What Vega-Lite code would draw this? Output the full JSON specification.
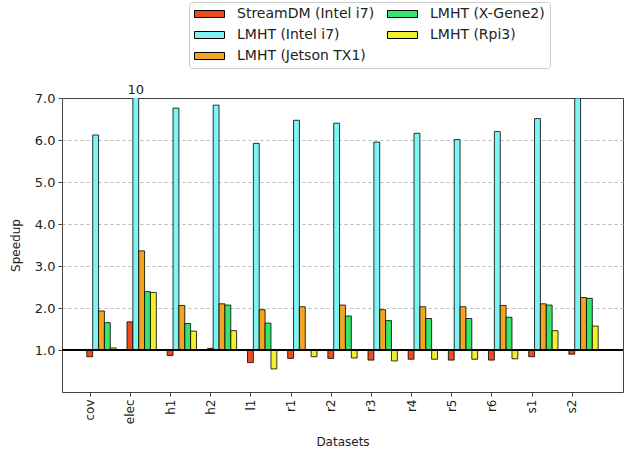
{
  "$schema": "https://vega.github.io/schema/vega-lite/v6.json",
  "width": 561,
  "height": 294,
  "autosize": "none",
  "padding": {"left": 62, "top": 98, "right": 11, "bottom": 57},
  "config": {
    "font": "DejaVu Sans",
    "view": {"stroke": "#444", "strokeWidth": 1}
  },
  "data": {
    "values": [
      {"dataset": "cov", "series": "StreamDM (Intel i7)", "value": 0.84},
      {"dataset": "cov", "series": "LMHT (Intel i7)", "value": 6.12},
      {"dataset": "cov", "series": "LMHT (Jetson TX1)", "value": 1.93},
      {"dataset": "cov", "series": "LMHT (X-Gene2)", "value": 1.65},
      {"dataset": "cov", "series": "LMHT (Rpi3)", "value": 1.05},
      {"dataset": "elec", "series": "StreamDM (Intel i7)", "value": 1.67},
      {"dataset": "elec", "series": "LMHT (Intel i7)", "value": 10},
      {"dataset": "elec", "series": "LMHT (Jetson TX1)", "value": 3.36},
      {"dataset": "elec", "series": "LMHT (X-Gene2)", "value": 2.39},
      {"dataset": "elec", "series": "LMHT (Rpi3)", "value": 2.37},
      {"dataset": "h1", "series": "StreamDM (Intel i7)", "value": 0.87},
      {"dataset": "h1", "series": "LMHT (Intel i7)", "value": 6.76},
      {"dataset": "h1", "series": "LMHT (Jetson TX1)", "value": 2.06},
      {"dataset": "h1", "series": "LMHT (X-Gene2)", "value": 1.63},
      {"dataset": "h1", "series": "LMHT (Rpi3)", "value": 1.45},
      {"dataset": "h2", "series": "StreamDM (Intel i7)", "value": 1.04},
      {"dataset": "h2", "series": "LMHT (Intel i7)", "value": 6.83},
      {"dataset": "h2", "series": "LMHT (Jetson TX1)", "value": 2.1},
      {"dataset": "h2", "series": "LMHT (X-Gene2)", "value": 2.07},
      {"dataset": "h2", "series": "LMHT (Rpi3)", "value": 1.46},
      {"dataset": "l1", "series": "StreamDM (Intel i7)", "value": 0.7},
      {"dataset": "l1", "series": "LMHT (Intel i7)", "value": 5.92},
      {"dataset": "l1", "series": "LMHT (Jetson TX1)", "value": 1.96},
      {"dataset": "l1", "series": "LMHT (X-Gene2)", "value": 1.64},
      {"dataset": "l1", "series": "LMHT (Rpi3)", "value": 0.55},
      {"dataset": "r1", "series": "StreamDM (Intel i7)", "value": 0.8},
      {"dataset": "r1", "series": "LMHT (Intel i7)", "value": 6.47},
      {"dataset": "r1", "series": "LMHT (Jetson TX1)", "value": 2.03},
      {"dataset": "r1", "series": "LMHT (Rpi3)", "value": 0.84},
      {"dataset": "r2", "series": "StreamDM (Intel i7)", "value": 0.8},
      {"dataset": "r2", "series": "LMHT (Intel i7)", "value": 6.4},
      {"dataset": "r2", "series": "LMHT (Jetson TX1)", "value": 2.07},
      {"dataset": "r2", "series": "LMHT (X-Gene2)", "value": 1.81},
      {"dataset": "r2", "series": "LMHT (Rpi3)", "value": 0.81},
      {"dataset": "r3", "series": "StreamDM (Intel i7)", "value": 0.76},
      {"dataset": "r3", "series": "LMHT (Intel i7)", "value": 5.95},
      {"dataset": "r3", "series": "LMHT (Jetson TX1)", "value": 1.96},
      {"dataset": "r3", "series": "LMHT (X-Gene2)", "value": 1.7},
      {"dataset": "r3", "series": "LMHT (Rpi3)", "value": 0.74},
      {"dataset": "r4", "series": "StreamDM (Intel i7)", "value": 0.78},
      {"dataset": "r4", "series": "LMHT (Intel i7)", "value": 6.16},
      {"dataset": "r4", "series": "LMHT (Jetson TX1)", "value": 2.03},
      {"dataset": "r4", "series": "LMHT (X-Gene2)", "value": 1.75},
      {"dataset": "r4", "series": "LMHT (Rpi3)", "value": 0.78},
      {"dataset": "r5", "series": "StreamDM (Intel i7)", "value": 0.76},
      {"dataset": "r5", "series": "LMHT (Intel i7)", "value": 6.01},
      {"dataset": "r5", "series": "LMHT (Jetson TX1)", "value": 2.03},
      {"dataset": "r5", "series": "LMHT (X-Gene2)", "value": 1.75},
      {"dataset": "r5", "series": "LMHT (Rpi3)", "value": 0.78},
      {"dataset": "r6", "series": "StreamDM (Intel i7)", "value": 0.76},
      {"dataset": "r6", "series": "LMHT (Intel i7)", "value": 6.2},
      {"dataset": "r6", "series": "LMHT (Jetson TX1)", "value": 2.06},
      {"dataset": "r6", "series": "LMHT (X-Gene2)", "value": 1.78},
      {"dataset": "r6", "series": "LMHT (Rpi3)", "value": 0.79},
      {"dataset": "s1", "series": "StreamDM (Intel i7)", "value": 0.84},
      {"dataset": "s1", "series": "LMHT (Intel i7)", "value": 6.51},
      {"dataset": "s1", "series": "LMHT (Jetson TX1)", "value": 2.1},
      {"dataset": "s1", "series": "LMHT (X-Gene2)", "value": 2.07},
      {"dataset": "s1", "series": "LMHT (Rpi3)", "value": 1.46},
      {"dataset": "s2", "series": "StreamDM (Intel i7)", "value": 0.9},
      {"dataset": "s2", "series": "LMHT (Intel i7)", "value": 7.0},
      {"dataset": "s2", "series": "LMHT (Jetson TX1)", "value": 2.25},
      {"dataset": "s2", "series": "LMHT (X-Gene2)", "value": 2.23},
      {"dataset": "s2", "series": "LMHT (Rpi3)", "value": 1.57}
    ]
  },
  "layer": [
    {
      "mark": {"type": "bar", "clip": true, "stroke": "black", "strokeWidth": 0.8},
      "encoding": {
        "x": {
          "field": "dataset",
          "type": "nominal",
          "sort": null,
          "scale": {"paddingInner": 0.27, "paddingOuter": 0.618, "round": false},
          "axis": {
            "title": "Datasets",
            "titleFontSize": 12,
            "titleFontWeight": "normal",
            "titleColor": "#222",
            "titlePadding": 13,
            "tickOffset": -11.7,
            "labelAngle": -90,
            "labelFontSize": 12,
            "labelColor": "#222",
            "labelPadding": 3,
            "domain": false,
            "ticks": true,
            "tickSize": 4,
            "tickColor": "#444",
            "grid": false
          }
        },
        "xOffset": {
          "field": "series",
          "type": "nominal",
          "scale": {"domain": ["StreamDM (Intel i7)", "LMHT (Intel i7)", "LMHT (Jetson TX1)", "LMHT (X-Gene2)", "LMHT (Rpi3)"]}
        },
        "y": {
          "field": "value",
          "type": "quantitative",
          "scale": {"domain": [0, 7], "nice": false},
          "axis": {
            "title": "Speedup",
            "titleFontSize": 12,
            "titleFontWeight": "normal",
            "titleColor": "#222",
            "titlePadding": 12,
            "values": [1, 2, 3, 4, 5, 6, 7],
            "format": ".1f",
            "labelFontSize": 13,
            "labelColor": "#222",
            "labelPadding": 3,
            "domain": false,
            "tickSize": 4,
            "tickColor": "#444",
            "grid": true,
            "gridDash": [3, 3],
            "gridColor": "#bbb",
            "gridWidth": 1,
            "gridOpacity": {"condition": {"test": "datum.value == 7 || datum.value == 1", "value": 0}, "value": 1}
          }
        },
        "y2": {"datum": 1},
        "color": {
          "field": "series",
          "type": "nominal",
          "scale": {
            "domain": ["StreamDM (Intel i7)", "LMHT (Intel i7)", "LMHT (Jetson TX1)", "LMHT (X-Gene2)", "LMHT (Rpi3)"],
            "range": ["#f04a20", "#7ff4f4", "#f3a521", "#35e46a", "#f2ef2c"]
          },
          "legend": {
            "orient": "none",
            "legendX": 127,
            "legendY": -96,
            "columns": 2,
            "title": null,
            "symbolType": "M-1,-0.2333H1V0.2333H-1Z",
            "symbolSize": 900,
            "symbolStrokeColor": "black",
            "symbolStrokeWidth": 1,
            "symbolOpacity": 1,
            "labelFontSize": 14,
            "labelColor": "#222",
            "labelOffset": 12,
            "clipHeight": 14,
            "rowPadding": 7,
            "columnPadding": 12,
            "padding": 5,
            "fillColor": "white",
            "strokeColor": "#ccc",
            "cornerRadius": 3
          }
        }
      }
    },
    {
      "mark": {"type": "rule", "color": "black", "strokeWidth": 2},
      "encoding": {"y": {"datum": 1}}
    },
    {
      "transform": [{"filter": "datum.value > 7"}],
      "mark": {"type": "text", "baseline": "bottom", "dy": -1, "fontSize": 13, "color": "#222"},
      "encoding": {
        "x": {"field": "dataset", "type": "nominal", "sort": null},
        "xOffset": {"field": "series", "type": "nominal"},
        "y": {"datum": 7},
        "text": {"field": "value", "type": "quantitative"}
      }
    }
  ]
}
